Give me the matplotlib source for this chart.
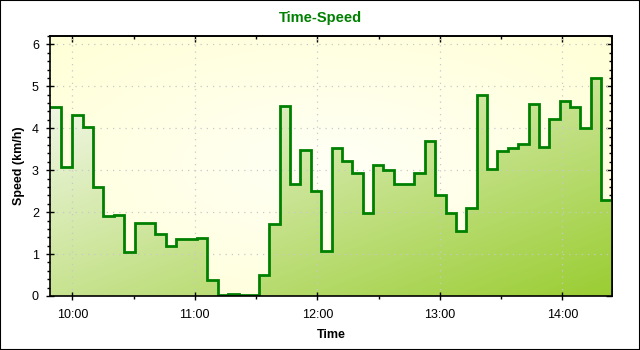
import numpy as np
import pandas as pd
import matplotlib
matplotlib.use("Agg")
import matplotlib.pyplot as plt
import matplotlib.dates as mdates
from matplotlib.patches import Polygon, Rectangle
from matplotlib.ticker import MultipleLocator
from matplotlib.colors import to_rgb

# ---- data ----
times = ["09:49:05", "09:54:19", "09:59:43", "10:05:05", "10:10:17", "10:15:02",
         "10:20:17", "10:25:19", "10:30:43", "10:35:36", "10:40:31", "10:45:45",
         "10:50:47", "10:55:50", "11:00:56", "11:05:59", "11:11:13", "11:16:25",
         "11:21:30", "11:26:24", "11:31:18", "11:36:21", "11:41:42", "11:46:36",
         "11:51:30", "11:56:48", "12:01:48", "12:07:12", "12:11:54", "12:16:54",
         "12:22:12", "12:27:18", "12:32:18", "12:37:36", "12:42:30", "12:47:24",
         "12:52:48", "12:57:42", "13:02:54", "13:07:54", "13:13:00", "13:18:24",
         "13:23:06", "13:28:12", "13:33:30", "13:38:30", "13:43:54", "13:48:42",
         "13:53:36", "13:59:00", "14:03:54", "14:08:48", "14:14:12", "14:18:48"]
speeds = [4.50, 3.07, 4.31, 4.02, 2.59, 1.90,
          1.92, 1.04, 1.75, 1.75, 1.49, 1.19,
          1.37, 1.35, 1.39, 0.38, 0.03, 0.05,
          0.03, 0.03, 0.51, 1.72, 4.53, 2.66,
          3.48, 2.50, 1.08, 3.52, 3.22, 2.93,
          1.99, 3.12, 3.00, 2.66, 2.66, 2.93,
          3.69, 2.42, 1.99, 1.54, 2.10, 4.79,
          3.02, 3.45, 3.52, 3.62, 4.58, 3.55,
          4.21, 4.64, 4.51, 4.00, 5.19, 2.30]
end_time = "14:24:30"
title = "Time-Speed"
xlabel = "Time"
ylabel = "Speed (km/h)"
y_max = 6.2

# ---- figure ----
plt.rcParams['font.family'] = ['Liberation Sans', 'DejaVu Sans']
fig = plt.figure(figsize=(6.4, 3.5), dpi=100)
fig.patch.set_facecolor('white')
ax = fig.add_axes([50/640, 1 - 296/350, 562.3/640, 260/350])

day = "2000-01-01 "
t = mdates.date2num(pd.to_datetime([day + s for s in times]))
t_end = mdates.date2num(pd.to_datetime(day + end_time))
xs = np.append(t, t_end)
ys = np.append(speeds, speeds[-1])

x0, x1 = t[0], t_end
ax.set_xlim(x0, x1)
ax.set_ylim(0, y_max)

# background radial gradient (light yellow)
ny, nx = 200, 400
gx, gy = np.meshgrid(np.linspace(-1, 1, nx), np.linspace(-1, 1, ny))
r = np.clip(np.sqrt(gx**2 + gy**2) / np.sqrt(2), 0, 1)
c_in = np.array(to_rgb('#fffff6'))
c_out = np.array(to_rgb('#ffffd6'))
bg = c_in[None, None, :] + r[..., None] * (c_out - c_in)[None, None, :]
ax.imshow(bg, extent=[x0, x1, 0, y_max], aspect='auto', zorder=0,
          interpolation='bilinear')

# fill gradient under the step line
px = np.repeat(xs, 2)[1:-1]
py = np.repeat(ys, 2)[:-2]
poly_x = np.concatenate([[xs[0]], px, [xs[-1]]])
poly_y = np.concatenate([[0], py, [0]])
poly = Polygon(np.column_stack([poly_x, poly_y]), closed=True,
               facecolor='none', edgecolor='none', transform=ax.transData)
ax.add_patch(poly)
top = max(speeds)
u, v = np.meshgrid(np.linspace(0, 1, nx), np.linspace(0, 1, ny))
tt = (u + v) / 2
c0 = np.array(to_rgb('#f6f9f0'))
c1 = np.array(to_rgb('#9acd32'))
fg = c0[None, None, :] + tt[..., None] * (c1 - c0)[None, None, :]
im = ax.imshow(fg, extent=[x0, x1, 0, top], aspect='auto', zorder=1,
               interpolation='bilinear')
im.set_clip_path(poly)

ax.step(xs, ys, where='post', color='#008000', lw=2.0, zorder=3,
        solid_joinstyle='miter')

ax.set_xlim(x0, x1)
ax.set_ylim(0, y_max)

# grid
ax.grid(True, which='major', color='#c8c8c8', linestyle=(0, (1, 4)), lw=0.9)
ax.set_axisbelow(False)
for gl in ax.get_xgridlines() + ax.get_ygridlines():
    gl.set_zorder(0.5)

# ticks
ax.xaxis.set_major_locator(mdates.HourLocator())
ax.xaxis.set_minor_locator(mdates.MinuteLocator(byminute=[30]))
ax.xaxis.set_major_formatter(mdates.DateFormatter('%H:%M'))
ax.yaxis.set_major_locator(MultipleLocator(1))
ax.yaxis.set_minor_locator(MultipleLocator(0.2))
ax.tick_params(axis='both', which='major', direction='inout', length=6,
               width=1, labelsize=9, colors='black')
ax.tick_params(axis='both', which='minor', direction='out', length=2.5, width=1)
ax.tick_params(axis='x', which='major', pad=6)
ax.tick_params(axis='y', which='major', pad=5)

sec_y = ax.secondary_yaxis('right')
sec_y.yaxis.set_major_locator(MultipleLocator(1))
sec_y.yaxis.set_minor_locator(MultipleLocator(0.2))
sec_y.tick_params(which='major', direction='in', length=4.5, width=1, labelright=False)
sec_y.tick_params(which='minor', direction='in', length=2.5, width=1)
sec_y.spines['right'].set_linewidth(1.2)

sec_x = ax.secondary_xaxis('top')
sec_x.xaxis.set_major_locator(mdates.HourLocator())
sec_x.xaxis.set_minor_locator(mdates.MinuteLocator(byminute=[30]))
sec_x.tick_params(which='major', direction='in', length=4, width=1, labeltop=False)
sec_x.tick_params(which='minor', direction='in', length=2.5, width=1)
sec_x.spines['top'].set_linewidth(1.2)

for s in ax.spines.values():
    s.set_linewidth(1.2)
    s.set_color('black')
    s.set_zorder(5)

ax.set_xlabel(xlabel, fontsize=9, fontweight='bold', labelpad=6)
ax.set_ylabel(ylabel, fontsize=9, fontweight='bold', labelpad=5)
fig.text(0.5, 1 - 18/350, title, ha='center', va='center', fontsize=10.5,
         fontweight='bold', color='#008000')

fig.patches.append(Rectangle((0, 0), 1, 1, transform=fig.transFigure,
                             fill=False, edgecolor='black', lw=1.5))

fig.savefig('out.png', dpi=100)
